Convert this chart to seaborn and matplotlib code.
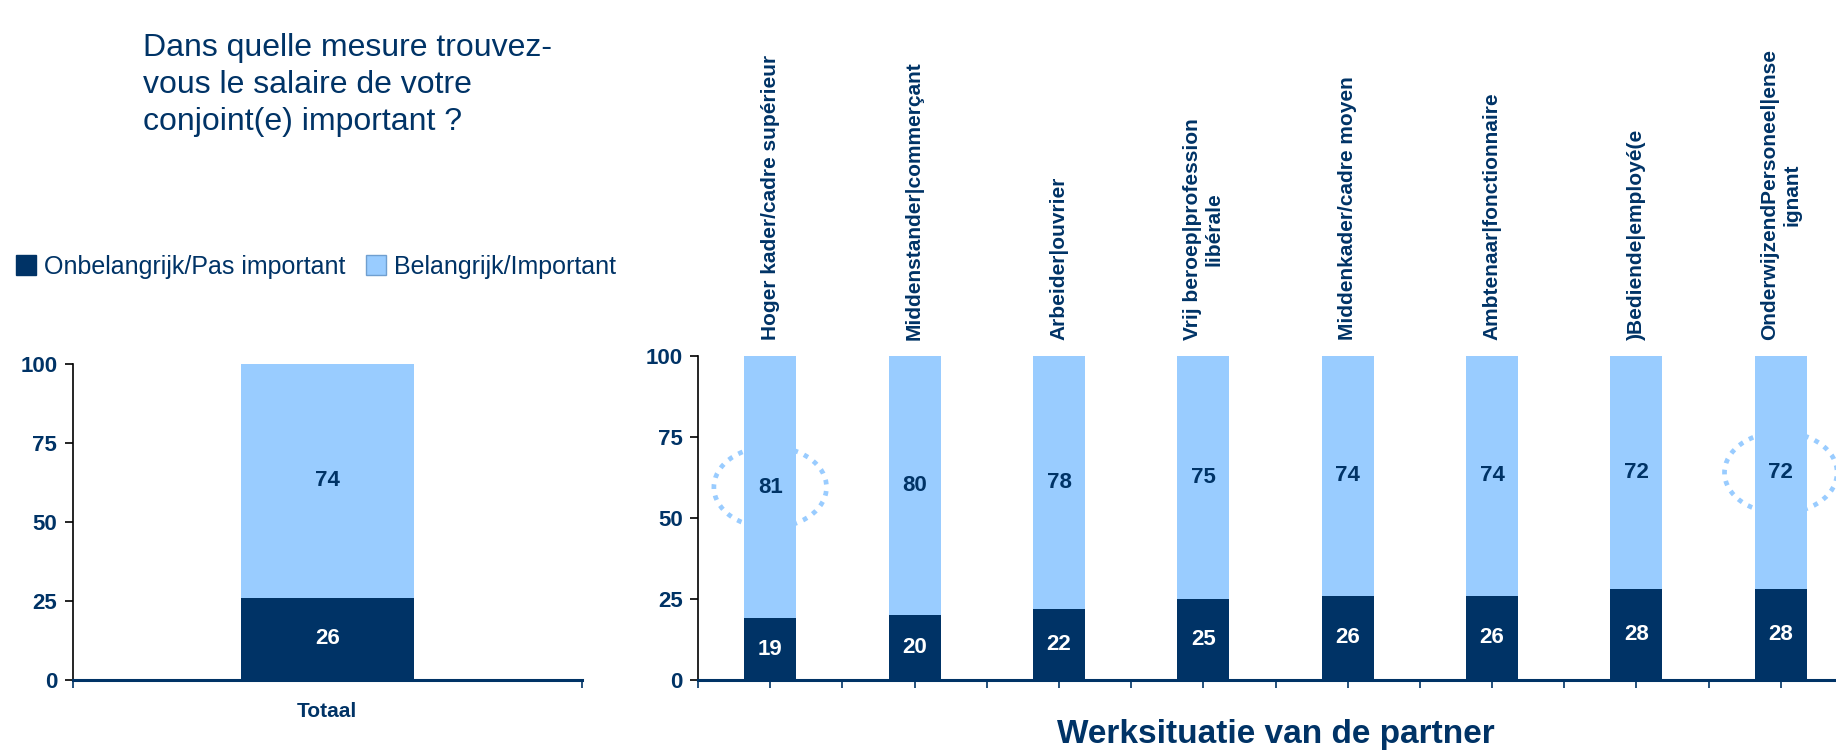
import matplotlib
matplotlib.use("Agg")
import matplotlib.pyplot as plt
import matplotlib.transforms as mtransforms
from matplotlib.patches import Ellipse
from matplotlib.lines import Line2D
import seaborn as sns

# ==========================================
# DATA
# ==========================================
TOTAL_CAT = ["Totaal"]
TOTAL_ONB = [26]
TOTAL_BEL = [74]

CATS = [
    "Hoger kader/cadre supérieur",
    "Middenstander|commerçant",
    "Arbeider|ouvrier",
    "Vrij beroep|profession\nlibérale",
    "Middenkader/cadre moyen",
    "Ambtenaar|fonctionnaire",
    ")Bediende|employé(e",
    "OnderwijzendPersoneel|ense\nignant",
]
ONB = [19, 20, 22, 25, 26, 26, 28, 28]   # Onbelangrijk/Pas important
BEL = [81, 80, 78, 75, 74, 74, 72, 72]   # Belangrijk/Important
HIGHLIGHT = [0, 7]                       # omcirkelde staven

SERIES = ["Onbelangrijk/Pas important", "Belangrijk/Important"]
YTICKS = [0, 25, 50, 75, 100]

# ==========================================
# STIJL
# ==========================================
NAVY = "#003366"
LIGHT = "#99CCFF"
W, H = 1836, 752

sns.set_theme(style="white")
plt.rcParams["font.family"] = ["Liberation Sans", "DejaVu Sans"]

fig = plt.figure(figsize=(W / 100, H / 100), dpi=100)
ax_l = fig.add_axes([72.6 / W, 1 - 680 / H, (582 - 72.6) / W, (680 - 364) / H])
ax_r = fig.add_axes([698 / W, 1 - 680 / H, 1155 / W, (680 - 356) / H])


def stacked(ax, cats, onb, bel, width):
    tot = [a + b for a, b in zip(onb, bel)]
    sns.barplot(x=cats, y=tot, order=cats, color=LIGHT, saturation=1,
                width=width, errorbar=None, ax=ax, linewidth=0)
    sns.barplot(x=cats, y=onb, order=cats, color=NAVY, saturation=1,
                width=width, errorbar=None, ax=ax, linewidth=0)
    for i, (a, b) in enumerate(zip(onb, bel)):
        ax.text(i, a / 2, f"{a}", ha="center", va="center", color="white",
                fontsize=16, fontweight="bold")
        ax.text(i, a + b / 2, f"{b}", ha="center", va="center", color=NAVY,
                fontsize=16, fontweight="bold")
    n = len(cats)
    ax.set_xlim(-0.5, n - 0.5)
    ax.set_ylim(0, 100)
    ax.set_yticks(YTICKS)
    ax.set_yticklabels([str(t) for t in YTICKS], fontsize=16,
                       fontweight="bold", color=NAVY)
    ax.set_xlabel("")
    ax.set_ylabel("")
    for s in ["top", "right"]:
        ax.spines[s].set_visible(False)
    ax.spines["left"].set_color("black")
    ax.spines["left"].set_linewidth(1.2)
    ax.spines["bottom"].set_color(NAVY)
    ax.spines["bottom"].set_linewidth(2.2)
    ax.tick_params(axis="y", left=True, length=6, width=1.2, color="black", pad=5)
    ax.set_facecolor("white")


stacked(ax_l, TOTAL_CAT, TOTAL_ONB, TOTAL_BEL, 0.34)
ax_l.tick_params(axis="x", bottom=False, pad=10)
ax_l.set_xticks([0])
ax_l.set_xticklabels(TOTAL_CAT, fontsize=15, fontweight="bold", color=NAVY)
ax_l.set_xticks([-0.5, 0.5], minor=True)
ax_l.tick_params(axis="x", which="minor", bottom=True, length=6, width=1.2,
                 color=NAVY, direction="out")

stacked(ax_r, CATS, ONB, BEL, 0.36)
n = len(CATS)
ax_r.set_xticks([i - 0.5 for i in range(n + 1)])
ax_r.set_xticklabels([])
ax_r.set_xticks(list(range(n)), minor=True)
ax_r.tick_params(axis="x", which="both", bottom=True, length=6, width=1.2,
                 color=NAVY, direction="out")

# categorielabels boven de staven
trans = mtransforms.blended_transform_factory(ax_r.transData, ax_r.transAxes)
for i, c in enumerate(CATS):
    ax_r.text(i, 1 + 16 / 324, c, transform=trans, rotation=90, ha="center",
              va="bottom", multialignment="center", fontsize=15,
              fontweight="bold", color=NAVY, clip_on=False)

# gestippelde cirkels
for i in HIGHLIGHT:
    ax_r.add_patch(Ellipse((i, ONB[i] + BEL[i] / 2), 0.78, 25, fill=False,
                           edgecolor=LIGHT, linewidth=3.4,
                           linestyle=(0, (1, 1.4)), clip_on=False, zorder=5))

fig.text(1276 / W, 1 - 734 / H, "Werksituatie van de partner", ha="center",
         va="center", fontsize=24, fontweight="bold", color=NAVY)

fig.text(143 / W, 1 - 33 / H,
         "Dans quelle mesure trouvez-\nvous le salaire de votre\nconjoint(e) important ?",
         ha="left", va="top", fontsize=23, color=NAVY, linespacing=1.3)

handles = [Line2D([], [], marker="s", linestyle="", markersize=14,
                  markerfacecolor=NAVY, markeredgecolor=NAVY),
           Line2D([], [], marker="s", linestyle="", markersize=14,
                  markerfacecolor=LIGHT, markeredgecolor="#6f9fd0")]
fig.legend(handles, SERIES, loc="center left", bbox_to_anchor=(0.0, 1 - 267 / H),
           ncol=2, frameon=False, fontsize=18, handletextpad=0.25,
           columnspacing=0.8, handlelength=0.9, borderaxespad=0.2,
           labelcolor=NAVY)

fig.savefig("out.png", dpi=100, facecolor="white")
